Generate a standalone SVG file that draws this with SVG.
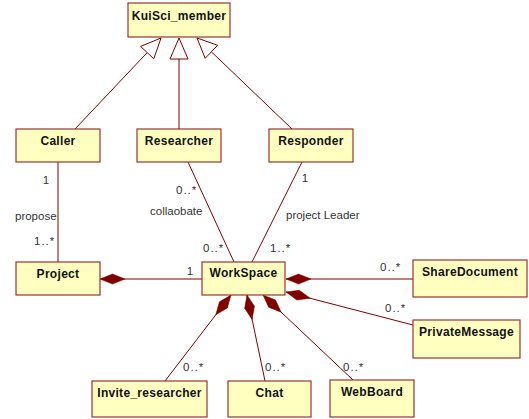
<svg xmlns="http://www.w3.org/2000/svg" width="529" height="419" viewBox="0 0 529 419">
<style>
.box{fill:#FFFFC0;stroke:#993333;stroke-width:1.2}
.name{font-family:"Liberation Sans",Arial,sans-serif;font-size:12px;font-weight:bold;fill:#111;text-anchor:middle;letter-spacing:0.3px}
.ln{stroke:#800000;stroke-width:1;fill:none}
.tri{fill:#fff;stroke:#800000;stroke-width:1}
.dia{fill:#800000;stroke:#800000;stroke-width:0.5}
.lbl{font-family:"Liberation Sans",Arial,sans-serif;font-size:11.5px;fill:#333}
.m{letter-spacing:1px}
</style>
<defs>
<path id="d" d="M0,0 L12.5,-5 L25,0 L12.5,5 Z"/>
</defs>
<rect width="529" height="419" fill="#fff"/>
<g id="connectors">
<line class="ln" x1="75" y1="129" x2="147.2" y2="52.6"/>
<polygon class="tri" points="161,38 140.6,46.4 153.8,58.8"/>
<line class="ln" x1="179" y1="129" x2="179" y2="59"/>
<polygon class="tri" points="179,38 170,59 188,59"/>
<line class="ln" x1="292" y1="129" x2="211.4" y2="51.8"/>
<polygon class="tri" points="197,38 217.6,45.3 205.2,58.3"/>
<line class="ln" x1="58" y1="162" x2="58" y2="262"/>
<line class="ln" x1="188" y1="162" x2="234" y2="262"/>
<line class="ln" x1="302" y1="162" x2="252" y2="262"/>
<line class="ln" x1="100" y1="279" x2="202" y2="279"/>
<use href="#d" class="dia" transform="translate(100,279)"/>
<line class="ln" x1="286" y1="279" x2="413" y2="279"/>
<use href="#d" class="dia" transform="translate(286,279)"/>
<line class="ln" x1="286" y1="292" x2="413" y2="325"/>
<use href="#d" class="dia" transform="translate(286,292) rotate(14.6)"/>
<line class="ln" x1="231" y1="295" x2="165" y2="381"/>
<use href="#d" class="dia" transform="translate(231,295) rotate(127.5)"/>
<line class="ln" x1="247" y1="295" x2="265" y2="381"/>
<use href="#d" class="dia" transform="translate(247,295) rotate(78.2)"/>
<line class="ln" x1="263" y1="295" x2="353" y2="380"/>
<use href="#d" class="dia" transform="translate(263,295) rotate(43.4)"/>
<text class="lbl" x="46" y="184" text-anchor="middle">1</text>
<text class="lbl" x="15" y="220">propose</text>
<text class="lbl m" x="34" y="245">1..*</text>
<text class="lbl" x="190" y="275" text-anchor="middle">1</text>
<text class="lbl m" x="176" y="194">0..*</text>
<text class="lbl" x="150" y="215">collaobate</text>
<text class="lbl m" x="203" y="252">0..*</text>
<text class="lbl" x="305" y="182" text-anchor="middle">1</text>
<text class="lbl" x="286" y="219">project Leader</text>
<text class="lbl m" x="270" y="252">1..*</text>
<text class="lbl m" x="380" y="271">0..*</text>
<text class="lbl m" x="385" y="312">0..*</text>
<text class="lbl m" x="183" y="371">0..*</text>
<text class="lbl m" x="265" y="371">0..*</text>
<text class="lbl m" x="343" y="371">0..*</text>
</g>
<g id="KuiSci_member"><rect class="box" x="128" y="3" width="102" height="34"/><text class="name" x="179" y="20">KuiSci_member</text></g>
<g id="Caller"><rect class="box" x="16" y="129" width="84" height="33"/><text class="name" x="58" y="145">Caller</text></g>
<g id="Researcher"><rect class="box" x="137" y="129" width="84" height="33"/><text class="name" x="179" y="145">Researcher</text></g>
<g id="Responder"><rect class="box" x="269" y="129" width="84" height="33"/><text class="name" x="311" y="145">Responder</text></g>
<g id="Project"><rect class="box" x="16" y="262" width="84" height="33"/><text class="name" x="58" y="278">Project</text></g>
<g id="WorkSpace"><rect class="box" x="202" y="262" width="83" height="33"/><text class="name" x="243.5" y="277">WorkSpace</text></g>
<g id="ShareDocument"><rect class="box" x="413" y="260" width="114" height="37"/><text class="name" x="470" y="276">ShareDocument</text></g>
<g id="PrivateMessage"><rect class="box" x="413" y="320" width="107" height="38"/><text class="name" x="466.5" y="336">PrivateMessage</text></g>
<g id="Invite_researcher"><rect class="box" x="92" y="381" width="115" height="36"/><text class="name" x="149.5" y="397">Invite_researcher</text></g>
<g id="Chat"><rect class="box" x="228" y="381" width="83" height="36"/><text class="name" x="269.5" y="397">Chat</text></g>
<g id="WebBoard"><rect class="box" x="330" y="380" width="84" height="37"/><text class="name" x="372" y="396">WebBoard</text></g>
</svg>
